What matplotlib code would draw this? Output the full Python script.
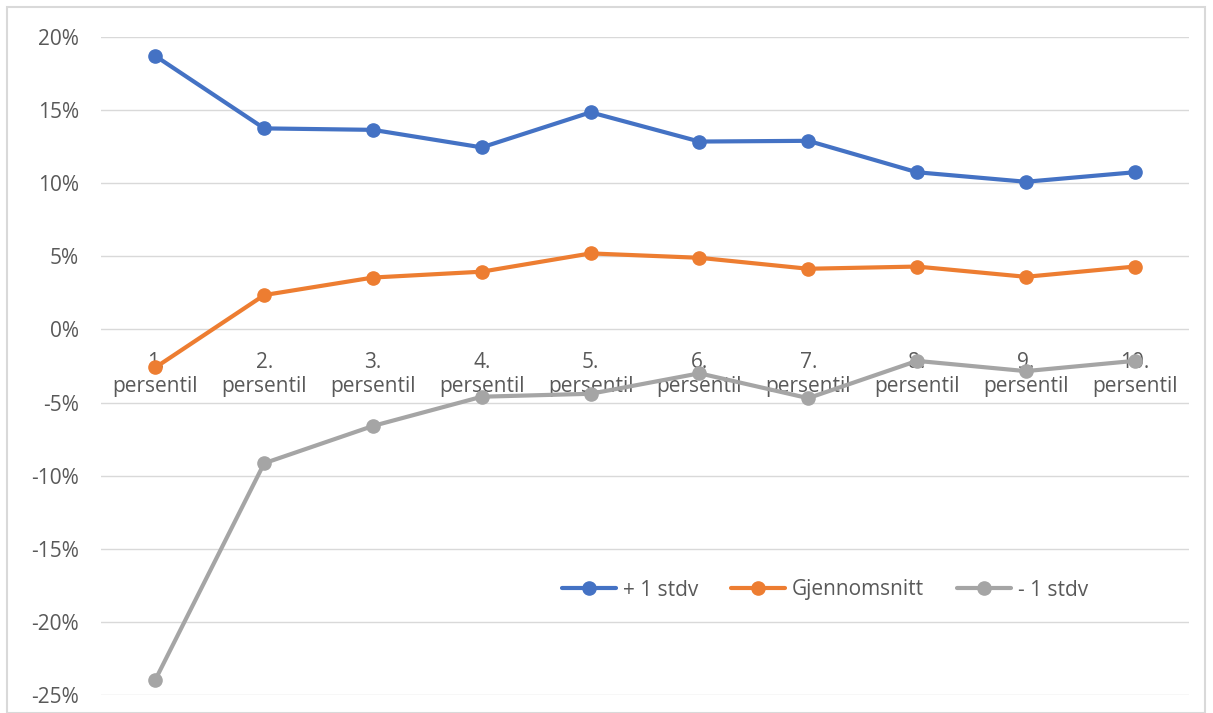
import numpy as np
import matplotlib.pyplot as plt
from matplotlib.patches import Rectangle
from matplotlib.ticker import FuncFormatter

plt.rcParams['font.family'] = ['Open Sans', 'DejaVu Sans']

categories = ["1.\npersentil", "2.\npersentil", "3.\npersentil", "4.\npersentil", "5.\npersentil",
              "6.\npersentil", "7.\npersentil", "8.\npersentil", "9.\npersentil", "10.\npersentil"]
pluss_stdv = [18.7, 13.75, 13.65, 12.45, 14.85, 12.85, 12.9, 10.75, 10.1, 10.75]
gjennomsnitt = [-2.6, 2.35, 3.55, 3.95, 5.2, 4.9, 4.15, 4.3, 3.6, 4.3]
minus_stdv = [-23.95, -9.15, -6.6, -4.6, -4.4, -3.0, -4.7, -2.15, -2.85, -2.15]

series = [("+ 1 stdv", pluss_stdv, "#4472C4"),
          ("Gjennomsnitt", gjennomsnitt, "#ED7D31"),
          ("- 1 stdv", minus_stdv, "#A5A5A5")]

W, H = 1213, 713
fig = plt.figure(figsize=(W / 100, H / 100), dpi=100)
ax = fig.add_axes([101 / W, (H - 695) / H, (1189 - 101) / W, (695 - 37) / H])

x = np.arange(len(categories))
for name, vals, col in series:
    ax.plot(x, vals, color=col, lw=3, marker="o", ms=9.5, label=name,
            solid_capstyle="round", zorder=3)

ax.set_xlim(-0.5, len(categories) - 0.5)
ax.set_ylim(-25, 20)
ax.set_yticks(np.arange(-25, 21, 5))
ax.yaxis.set_major_formatter(FuncFormatter(lambda v, p: f"{v:.0f}%"))
ax.grid(axis="y", color="#D9D9D9", lw=1)
ax.set_axisbelow(True)
for s in ax.spines.values():
    s.set_visible(False)
ax.tick_params(axis="y", length=0, pad=16, labelsize=15, labelcolor="#595959")
ax.set_xticks([])

# category labels sit under the zero line
for i, lab in enumerate(categories):
    ax.annotate(lab, (i, 0), xytext=(0, -16), textcoords="offset points",
                ha="center", va="top", fontsize=15, color="#595959",
                linespacing=1.2, zorder=2)

ax.legend(loc="center", bbox_to_anchor=(825 / W, 1 - 590 / H), bbox_transform=fig.transFigure,
          ncol=3, frameon=False, fontsize=15, labelcolor="#595959",
          handlelength=2.6, columnspacing=1.6, handletextpad=0.3)

fig.patches.append(Rectangle((7 / W, 0), (1205 - 7) / W, (H - 7) / H, transform=fig.transFigure,
                             fill=False, edgecolor="#D9D9D9", lw=1.5))

fig.savefig("out.png", dpi=100)
